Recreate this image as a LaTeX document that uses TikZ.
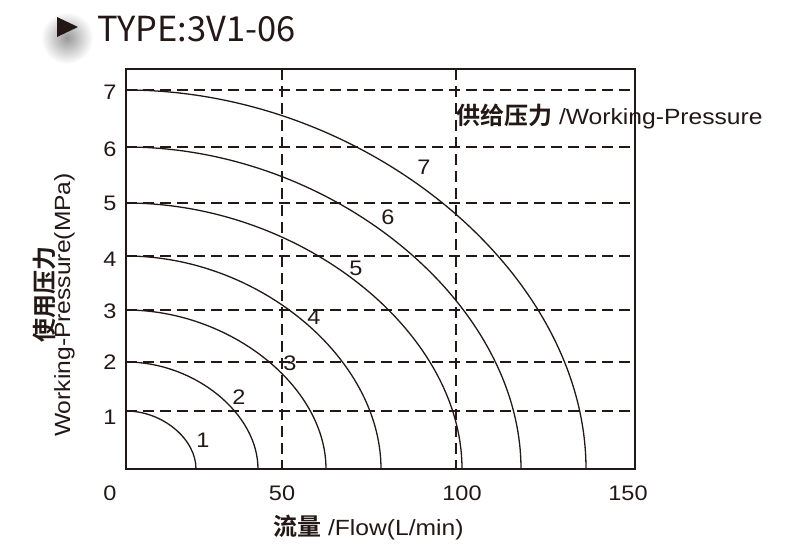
\documentclass[tikz,border=0pt]{standalone}
\usepackage{fontspec}
\setmainfont[FakeStretch=1.12]{Liberation Sans}
\newfontfamily\cjk[BoldFont={* Bold}]{Noto Sans CJK SC}
\newfontfamily\titlefont{Noto Sans CJK SC}
\usepackage{tikz}
\usetikzlibrary{calc}
\definecolor{ink}{HTML}{231815}
\tikzset{curve/.style={draw=ink, line width=1.3pt}}
\tikzset{gridline/.style={draw=ink, line width=1.4pt, dash pattern=on 11pt off 6pt}}
\tikzset{ticklab/.style={text=ink, font=\fontsize{21}{24}\selectfont, inner sep=0pt}}
\tikzset{axislab/.style={text=ink, font=\fontsize{22}{26}\selectfont, inner sep=0pt}}

\begin{document}
\begin{tikzpicture}
[x=1pt, y=1pt, frame/.style={draw=ink, line width=1.6pt}]
\useasboundingbox (0,0) rectangle (800,550);

% title
\shade[inner color=black!40, outer color=white] (67,512) circle (26);
\fill[ink] (57,533) -- (57,513) -- (78,523) -- cycle;
\node (title) at (97,508)[anchor=base west, inner sep=0pt, text=ink, font=\titlefont\fontsize{34.5}{40}\selectfont]{TYPE:3V1-06};

% grid
\draw[gridline] (126,139) -- (635,139);
\draw[gridline] (126,188) -- (635,188);
\draw[gridline] (126,240) -- (635,240);
\draw[gridline] (126,294) -- (635,294);
\draw[gridline] (126,347) -- (635,347);
\draw[gridline] (126,403) -- (635,403);
\draw[gridline] (126,460) -- (635,460);
\draw[gridline] (282,481) -- (282,81);
\draw[gridline] (456,481) -- (456,81);

% curves
\draw[curve] (126,139) .. controls (162.4,139) and (196,111.2) .. (196,81);
\draw[curve] (126,188) .. controls (194.6,188) and (258,136.6) .. (258,81);
\draw[curve] (126,240) .. controls (230,240) and (326,163.7) .. (326,81);
\draw[curve] (126,294) .. controls (258.6,294) and (381,191.8) .. (381,81);
\draw[curve] (126,347) .. controls (300.7,347) and (462,219.3) .. (462,81);
\draw[curve] (126,403) .. controls (331.4,403) and (521,248.4) .. (521,81);
\draw[curve] (126,460) .. controls (365.2,460) and (586,278.1) .. (586,81);

\draw[frame] (126,81) rectangle (635,481);

% curve labels
\node (c1) at (203,110)[ticklab]{1};
\node (c2) at (239,153)[ticklab]{2};
\node (c3) at (290,187)[ticklab]{3};
\node (c4) at (314,233)[ticklab]{4};
\node (c5) at (356,282)[ticklab]{5};
\node (c6) at (388,333)[ticklab]{6};
\node (c7) at (424,383)[ticklab]{7};

% y ticks
\node (y1) at (110,133)[ticklab]{1};
\node (y2) at (110,187.5)[ticklab]{2};
\node (y3) at (110,239)[ticklab]{3};
\node (y4) at (110,291)[ticklab]{4};
\node (y5) at (110,346.5)[ticklab]{5};
\node (y6) at (110,400.5)[ticklab]{6};
\node (y7) at (110,457.5)[ticklab]{7};

% x ticks
\node (x0) at (110,50)[ticklab, anchor=base]{0};
\node (x50) at (282,50)[ticklab, anchor=base]{50};
\node (x100) at (462,50)[ticklab, anchor=base]{100};
\node (x150) at (628,50)[ticklab, anchor=base]{150};

% axis labels
\node (xlab) at (273,15)[axislab, anchor=base west]{{\cjk\bfseries\fontsize{24}{26}\selectfont 流量} /Flow(L/min)};
\node (plab) at (456,425)[axislab, anchor=base west]{{\cjk\bfseries\fontsize{24}{26}\selectfont 供给压力} /Working-Pressure};
\node (ylabcn) at (44,256)[axislab, rotate=90, font=\cjk\bfseries\fontsize{24}{26}\selectfont]{使用压力};
\node (ylab) at (70,245)[axislab, rotate=90, anchor=base]{Working-Pressure(MPa)};
\end{tikzpicture}
\end{document}
